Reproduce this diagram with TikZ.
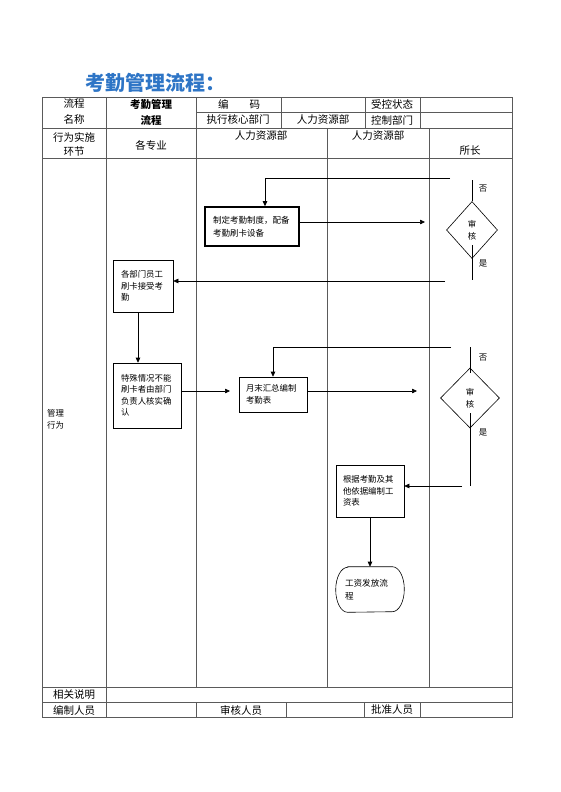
\documentclass[tikz,border=0pt]{standalone}
\usepackage{fontspec}
\setmainfont{Noto Sans CJK SC}
\usetikzlibrary{shapes.geometric,arrows.meta}
\definecolor{titleblue}{RGB}{46,117,198}
\definecolor{tblgray}{RGB}{90,90,90}
\begin{document}
\begin{tikzpicture}[x=1pt,y=-1pt,
  tbl/.style={draw=tblgray, line width=0.6pt},
  flow/.style={draw=black, line width=0.6pt},
  arr/.style={flow, -{Triangle[length=5pt,width=4.5pt]}},
  hd/.style={font=\fontsize{10.5}{14}\selectfont, inner sep=0, align=center},
  proc/.style={draw=black, line width=0.6pt, align=left, font=\fontsize{8.4}{11.5}\selectfont, inner ysep=2pt},
  dec/.style={diamond, draw=black, line width=0.6pt, inner sep=0, align=center, font=\fontsize{8.4}{12}\selectfont},
  lbl/.style={font=\fontsize{8.4}{12}\selectfont, inner sep=0, align=left},
]
\useasboundingbox (0,0) rectangle (560,792);
% title
\node[anchor=west, text=titleblue, font=\fontsize{20}{23}\selectfont\bfseries, inner sep=0] (title) at (85,83) {考勤管理流程：};
% table frame
\draw[tbl] (42,97) rectangle (512,717);
\draw[tbl] (196,112) -- (512,112);
\draw[tbl] (42,128) -- (512,128);
\draw[tbl] (42,158) -- (512,158);
\draw[tbl] (42,687) -- (512,687);
\draw[tbl] (42,702) -- (512,702);
\draw[tbl] (106,97) -- (106,717);
\draw[tbl] (196,97) -- (196,687);
\draw[tbl] (196,702) -- (196,717);
\draw[tbl] (281,97) -- (281,128);
\draw[tbl] (365,97) -- (365,128);
\draw[tbl] (420,97) -- (420,128);
\draw[tbl] (327,128) -- (327,687);
\draw[tbl] (429,128) -- (429,687);
\draw[tbl] (286,702) -- (286,717);
\draw[tbl] (364,702) -- (364,717);
\draw[tbl] (420,702) -- (420,717);
% header texts
\node[hd, font=\fontsize{10.5}{16}\selectfont] (h1) at (74,112) {流程\\名称};
\node[hd, font=\fontsize{10.5}{16}\selectfont\bfseries] (h2) at (151,112) {考勤管理\\流程};
\node[hd] (h3) at (239,104) {编\hspace{2em}码};
\node[hd] (h4) at (392,104) {受控状态};
\node[hd] (h5) at (238,120) {执行核心部门};
\node[hd] (h6) at (323,120) {人力资源部};
\node[hd] (h7) at (392,120) {控制部门};
\node[hd] (l1) at (74,144) {行为实施\\环节};
\node[hd] (l2) at (151,145) {各专业};
\node[hd] (l3) at (261,136) {人力资源部};
\node[hd] (l4) at (378,136) {人力资源部};
\node[hd] (l5) at (470,151) {所长};
\node[hd] (f1) at (74,695) {相关说明};
\node[hd] (f2) at (74,710) {编制人员};
\node[hd] (f3) at (241,710) {审核人员};
\node[hd] (f4) at (392,710) {批准人员};
\node[lbl, anchor=west] (mg) at (47,419) {管理\\行为};
% flow nodes
\node[proc, line width=1.6pt, minimum width=94, minimum height=39, text width=78, inner xsep=8, font=\fontsize{8.5}{13}\selectfont] (b1) at (252,226.5) {制定考勤制度，配备\\考勤刷卡设备};
\node[proc, minimum width=60, minimum height=52, text width=44, inner xsep=8] (b2) at (143,286) {各部门员工\\刷卡接受考\\勤};
\node[proc, minimum width=68, minimum height=65, text width=52, inner xsep=8] (b3) at (147,395.5) {特殊情况不能\\刷卡者由部门\\负责人核实确\\认};
\node[proc, minimum width=68, minimum height=35, text width=54, inner xsep=7] (b4) at (273,394.5) {月末汇总编制\\考勤表};
\node[proc, minimum width=68, minimum height=52, text width=54, inner xsep=7] (b5) at (370,491) {根据考勤及其\\他依据编制工\\资表};
\node[proc, draw=none, minimum width=68, minimum height=45, text width=50, inner xsep=9, font=\fontsize{8.6}{13}\selectfont] (t1) at (370,589.5) {工资发放流\\程};
\draw[flow] ([xshift=12pt]t1.north west) -- ([xshift=-12pt]t1.north east)
  arc[start angle=90, end angle=-90, x radius=12pt, y radius=22.5pt]
  -- ([xshift=12pt]t1.south west)
  arc[start angle=270, end angle=90, x radius=12pt, y radius=22.5pt] -- cycle;
\node[dec, minimum width=51, minimum height=57] (d1) at (472,230) {审\\核};
\node[dec, minimum width=59, minimum height=60] (d2) at (470,398) {审\\核};
% labels
\node[lbl] (n1) at (483,189) {否};
\node[lbl] (y1) at (483,263) {是};
\node[lbl] (n2) at (483,358) {否};
\node[lbl] (y2) at (483,432) {是};
% coordinates
\coordinate (c1a) at (472,180);
\coordinate (c1s) at (472,245);
\coordinate (c1b) at (472,280);
\coordinate (fb1) at (450,178);
\coordinate (e1) at (425,222);
\coordinate (g1) at (445,281);
\coordinate (e2) at (230,391);
\coordinate (fb2) at (451,347);
\coordinate (e3) at (417,391);
\coordinate (c2a) at (470,347);
\coordinate (c2n) at (470,373);
\coordinate (c2s) at (470,413);
\coordinate (c2b) at (470,486);
\coordinate (g2) at (462,486);
% connectors
\draw[flow] (c1a) -- (d1.north);
\draw[flow] (c1s) -- (c1b);
\draw[arr] (fb1) -| ([xshift=13]b1.north);
\draw[arr] (b1.east |- e1) -- (e1);
\draw[arr] (g1) -- (g1 -| b2.east);
\draw[arr] ([xshift=-5]b2.south) -- ([xshift=-5]b2.south |- b3.north);
\draw[arr] (b3.east |- e2) -- (e2);
\draw[arr] (fb2) -| (b4.north);
\draw[arr] (b4.east |- e3) -- (e3);
\draw[flow] (c2a) -- (c2n);
\draw[flow] (c2s) -- (c2b);
\draw[arr] (g2) -- (g2 -| b5.east);
\draw[arr] (b5.south) -- (t1.north);
\end{tikzpicture}
\end{document}
